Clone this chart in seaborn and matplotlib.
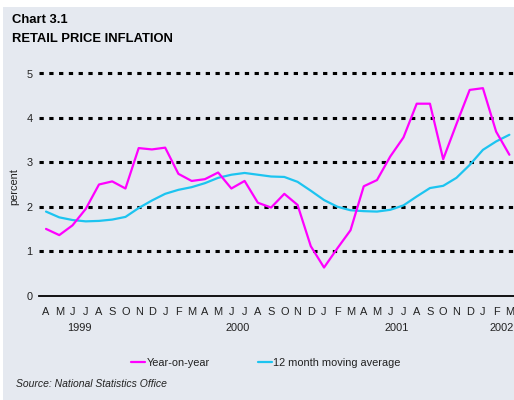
import matplotlib
matplotlib.use("Agg")
import matplotlib.pyplot as plt
import matplotlib.transforms as mtransforms
from matplotlib.patches import Rectangle
from matplotlib.lines import Line2D
import seaborn as sns
import pandas as pd
import numpy as np

months = ["A", "M", "J", "J", "A", "S", "O", "N", "D",
          "J", "F", "M", "A", "M", "J", "J", "A", "S", "O", "N", "D",
          "J", "F", "M", "A", "M", "J", "J", "A", "S", "O", "N", "D",
          "J", "F", "M"]
years = ["1999", "2000", "2001", "2002"]
year_pos = [2.5, 14.5, 26.5, 34.4]

yoy = [1.50, 1.36, 1.58, 1.95, 2.50, 2.57, 2.41, 3.32, 3.29, 3.33,
       2.74, 2.58, 2.62, 2.77, 2.41, 2.58, 2.09, 1.98, 2.29, 2.04,
       1.11, 0.63, 1.06, 1.47, 2.46, 2.60, 3.13, 3.56, 4.32, 4.32,
       3.07, 3.86, 4.63, 4.67, 3.69, 3.17]
mavg = [1.89, 1.76, 1.70, 1.67, 1.68, 1.71, 1.77, 1.97, 2.14, 2.29,
        2.38, 2.44, 2.53, 2.65, 2.72, 2.76, 2.72, 2.68, 2.67, 2.56,
        2.36, 2.15, 2.00, 1.92, 1.90, 1.89, 1.93, 2.03, 2.23, 2.42,
        2.47, 2.65, 2.94, 3.28, 3.47, 3.62]

MAG = "#FF00FF"
CYAN = "#1CC4F0"
BG = "#E5E9F0"
TXT = "#222222"
FS = 7.9

sns.set_theme(style="white")
plt.rcParams['font.family'] = ['Liberation Sans', 'DejaVu Sans']

W, H = 514, 400
fig = plt.figure(figsize=(W / 100, H / 100), dpi=100, facecolor="white")
fig.patches.append(Rectangle((3 / W, 0), 1, 1 - 7 / H, transform=fig.transFigure,
                             facecolor=BG, edgecolor="none", zorder=-10))

left_px, right_px = 39.4, 516
ax = fig.add_axes([left_px / W, (H - 295.5) / H, (right_px - left_px) / W, (295.5 - 73.5) / H])
ax.set_facecolor("none")

df = pd.DataFrame({"x": np.arange(len(yoy)), "yoy": yoy, "mavg": mavg})
sns.lineplot(data=df, x="x", y="mavg", ax=ax, color=CYAN, linewidth=1.6, zorder=3)
sns.lineplot(data=df, x="x", y="yoy", ax=ax, color=MAG, linewidth=1.6, zorder=4)

ax.set_xlim(-0.5, 35.5)
ax.set_ylim(0, 5)

for v in [1, 2, 3, 4, 5]:
    ax.axhline(v, color="black", linewidth=2.2, linestyle=(0, (1.4, 1.8)),
               dash_capstyle="butt", zorder=2, clip_on=False)

for s in ["top", "right", "left"]:
    ax.spines[s].set_visible(False)
ax.spines["bottom"].set_color("black")
ax.spines["bottom"].set_linewidth(1.3)

ax.set_yticks([0, 1, 2, 3, 4, 5])
ax.set_yticklabels(["0", "1", "2", "3", "4", "5"], fontsize=FS, color=TXT)
ax.tick_params(axis="y", length=0, pad=5)

ax.set_xticks(np.arange(len(months)))
ax.set_xticklabels(months, fontsize=FS, color=TXT)
ax.set_xticks(np.arange(-0.5, 36, 1.0), minor=True)
ax.tick_params(axis="x", which="major", length=0, pad=8)
ax.tick_params(axis="x", which="minor", direction="in", length=4, width=1.2, color="black")

trans = mtransforms.blended_transform_factory(ax.transData, fig.transFigure)
for yr, p in zip(years, year_pos):
    ax.text(p, (H - 328) / H, yr, transform=trans, ha="center", va="center",
            fontsize=FS, color=TXT)

ax.set_xlabel("")
ax.set_ylabel("")
fig.text(14 / W, (H - 187) / H, "percent", rotation=90, ha="center", va="center",
         fontsize=FS, color=TXT)

fig.text(12 / W, (H - 23) / H, "Chart 3.1", fontsize=9.4, fontweight="bold",
         ha="left", va="baseline", color="black")
fig.text(12 / W, (H - 42) / H, "RETAIL PRICE INFLATION", fontsize=9.4, fontweight="bold",
         ha="left", va="baseline", color="black")

handles = [Line2D([], [], color=MAG, linewidth=1.6), Line2D([], [], color=CYAN, linewidth=1.6)]
fig.legend(handles, ["Year-on-year", "12 month moving average"], loc="center",
           bbox_to_anchor=(266 / W, (H - 363) / H), ncol=2, frameon=False,
           fontsize=FS, handlelength=1.3, handletextpad=0.15, columnspacing=4.3,
           borderpad=0, labelcolor=TXT)

fig.text(16 / W, (H - 384) / H, "Source: National Statistics Office", fontsize=7.5,
         fontstyle="italic", ha="left", va="center", color=TXT)

fig.savefig("out.png", dpi=100, facecolor=fig.get_facecolor())
